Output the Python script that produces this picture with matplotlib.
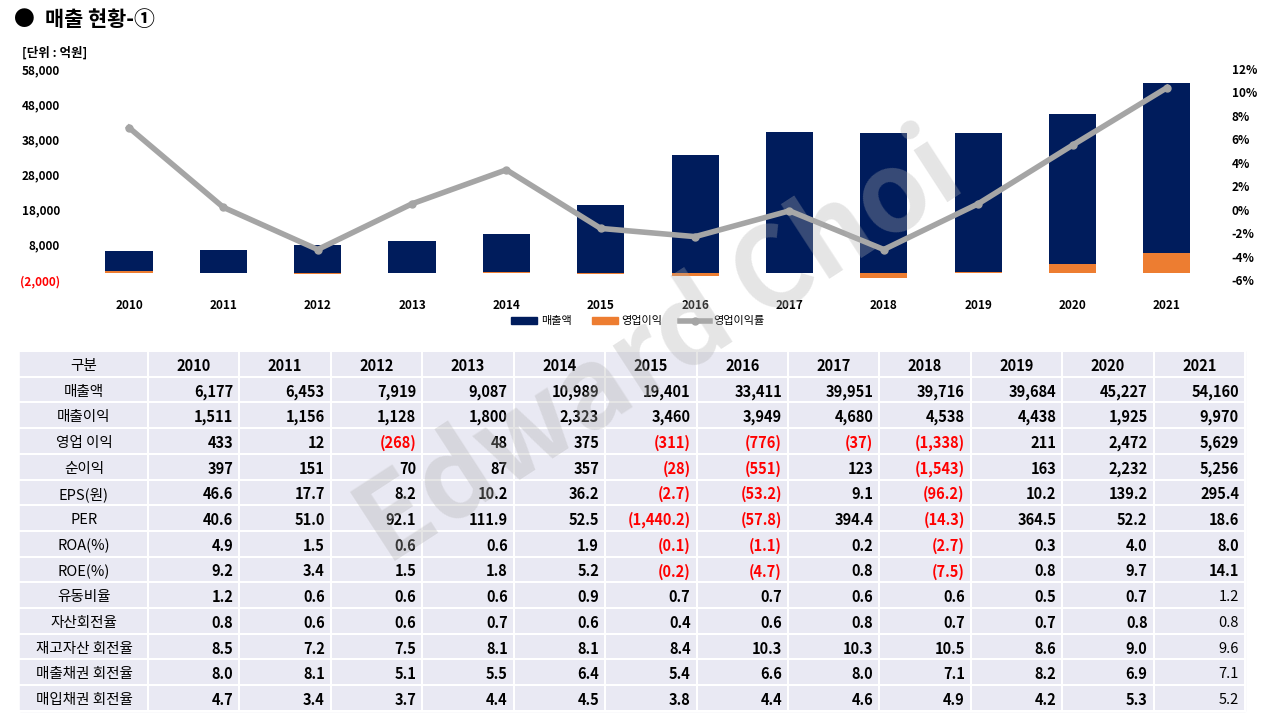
import numpy as np
import matplotlib.pyplot as plt
from matplotlib.patches import Rectangle

plt.rcParams['font.family'] = ['Noto Sans CJK KR', 'DejaVu Sans']

years = ['2010', '2011', '2012', '2013', '2014', '2015', '2016', '2017', '2018', '2019', '2020', '2021']
sales = [6177, 6453, 7919, 9087, 10989, 19401, 33411, 39951, 39716, 39684, 45227, 54160]
op_income = [433, 12, -268, 48, 375, -311, -776, -37, -1338, 211, 2472, 5629]
op_margin = [7.0, 0.2, -3.4, 0.5, 3.4, -1.6, -2.3, -0.1, -3.4, 0.5, 5.5, 10.4]

row_names = ['매출액', '매출이익', '영업 이익', '순이익', 'EPS(원)', 'PER', 'ROA(%)', 'ROE(%)',
             '유동비율', '자산회전율', '재고자산 회전율', '매출채권 회전율', '매입채권 회전율']
table = [
    ['6,177', '6,453', '7,919', '9,087', '10,989', '19,401', '33,411', '39,951', '39,716', '39,684', '45,227', '54,160'],
    ['1,511', '1,156', '1,128', '1,800', '2,323', '3,460', '3,949', '4,680', '4,538', '4,438', '1,925', '9,970'],
    ['433', '12', '(268)', '48', '375', '(311)', '(776)', '(37)', '(1,338)', '211', '2,472', '5,629'],
    ['397', '151', '70', '87', '357', '(28)', '(551)', '123', '(1,543)', '163', '2,232', '5,256'],
    ['46.6', '17.7', '8.2', '10.2', '36.2', '(2.7)', '(53.2)', '9.1', '(96.2)', '10.2', '139.2', '295.4'],
    ['40.6', '51.0', '92.1', '111.9', '52.5', '(1,440.2)', '(57.8)', '394.4', '(14.3)', '364.5', '52.2', '18.6'],
    ['4.9', '1.5', '0.6', '0.6', '1.9', '(0.1)', '(1.1)', '0.2', '(2.7)', '0.3', '4.0', '8.0'],
    ['9.2', '3.4', '1.5', '1.8', '5.2', '(0.2)', '(4.7)', '0.8', '(7.5)', '0.8', '9.7', '14.1'],
    ['1.2', '0.6', '0.6', '0.6', '0.9', '0.7', '0.7', '0.6', '0.6', '0.5', '0.7', '1.2'],
    ['0.8', '0.6', '0.6', '0.7', '0.6', '0.4', '0.6', '0.8', '0.7', '0.7', '0.8', '0.8'],
    ['8.5', '7.2', '7.5', '8.1', '8.1', '8.4', '10.3', '10.3', '10.5', '8.6', '9.0', '9.6'],
    ['8.0', '8.1', '5.1', '5.5', '6.4', '5.4', '6.6', '8.0', '7.1', '8.2', '6.9', '7.1'],
    ['4.7', '3.4', '3.7', '4.4', '4.5', '3.8', '4.4', '4.6', '4.9', '4.2', '5.3', '5.2'],
]

W, H = 1280, 720
fig = plt.figure(figsize=(12.8, 7.2), dpi=100)

def fx(px):
    return px / W

def fy(py):
    return 1 - py / H

# title
fig.text(fx(14), fy(20), '●', fontsize=15, va='center', ha='left')
fig.text(fx(45), fy(20), '매출 현황-①', fontsize=15, fontweight='bold', va='center', ha='left')
fig.text(fx(22), fy(53), '[단위 : 억원]', fontsize=9, fontweight='bold', va='center', ha='left')

# chart
ax = fig.add_axes([fx(85), fy(280), fx(1215) - fx(85), (280 - 69) / H])
x = np.arange(len(years))
ax.bar(x, sales, width=0.5, color='#001c5c', zorder=2)
ax.bar(x, op_income, width=0.5, color='#ed7d31', zorder=3)
ax.set_xlim(-0.466, 11.51)
ax.set_ylim(-2000, 58000)
ax.set_yticks(np.arange(-2000, 58001, 10000))
ax.set_yticklabels(['(2,000)'] + [f'{v:,}' for v in range(8000, 58001, 10000)])
ax.get_yticklabels()[0].set_color('red')
ax.set_xticks(x)
ax.set_xticklabels(years)
for s in ax.spines.values():
    s.set_visible(False)
ax.tick_params(length=0, labelsize=8.5)
for lab in ax.get_xticklabels() + ax.get_yticklabels():
    lab.set_fontweight('bold')
ax.tick_params(axis='y', pad=18)
ax.tick_params(axis='x', pad=14)

ax2 = ax.twinx()
ax2.plot(x, op_margin, color='#a5a5a5', lw=4, marker='o', ms=5, zorder=4)
ax2.set_ylim(-6, 12)
ax2.set_yticks(np.arange(-6, 13, 2))
ax2.set_yticklabels([f'{v}%' for v in range(-6, 13, 2)])
for s in ax2.spines.values():
    s.set_visible(False)
ax2.tick_params(length=0, labelsize=8.5, pad=12)
for lab in ax2.get_yticklabels():
    lab.set_fontweight('bold')

# legend
ly = fy(321)
fig.patches.append(Rectangle((fx(511), ly - 3 / H), 26 / W, 7 / H, color='#001c5c', transform=fig.transFigure))
fig.text(fx(541), ly, '매출액', fontsize=8, va='center')
fig.patches.append(Rectangle((fx(592), ly - 3 / H), 26 / W, 7 / H, color='#ed7d31', transform=fig.transFigure))
fig.text(fx(621), ly, '영업이익', fontsize=8, va='center')
fig.lines.append(plt.Line2D([fx(680), fx(710)], [ly, ly], color='#a5a5a5', lw=4, transform=fig.transFigure))
fig.lines.append(plt.Line2D([fx(695)], [ly], color='#a5a5a5', marker='o', ms=5, transform=fig.transFigure))
fig.text(fx(713), ly, '영업이익률', fontsize=8, va='center')

# table
top, rh = 351, 25.7
col0_l, col0_r = 20, 148
cw = (1245 - col0_r) / 12
nrows = len(row_names) + 1
fig.patches.append(Rectangle((fx(col0_l), fy(top + rh * nrows)), (1245 - col0_l) / W, rh * nrows / H,
                             color='#e9e9f3', transform=fig.transFigure, zorder=0))
for r in range(nrows + 1):
    yy = fy(top + rh * r)
    fig.lines.append(plt.Line2D([fx(col0_l), fx(1245)], [yy, yy], color='white', lw=1.5, transform=fig.transFigure))
for c in range(13):
    xx = fx(col0_r + cw * c)
    fig.lines.append(plt.Line2D([xx, xx], [fy(top), fy(top + rh * nrows)], color='white', lw=1.5, transform=fig.transFigure))

fs = 10.5
off = 2
fig.text(fx((col0_l + col0_r) / 2), fy(top + rh / 2 + off), '구분', fontsize=fs, ha='center', va='center')
for j, yr in enumerate(years):
    fig.text(fx(col0_r + cw * (j + 0.5)), fy(top + rh / 2 + off), yr, fontsize=fs, fontweight='bold', ha='center', va='center')
for i, name in enumerate(row_names):
    cy = fy(top + rh * (i + 1.5) + off)
    fig.text(fx((col0_l + col0_r) / 2), cy, name, fontsize=fs, ha='center', va='center')
    for j, val in enumerate(table[i]):
        color = 'red' if val.startswith('(') else 'black'
        weight = 'normal' if (j == 11 and i >= 8) else 'bold'
        fig.text(fx(col0_r + cw * (j + 1) - 6), cy, val, fontsize=fs, fontweight=weight,
                 color=color, ha='right', va='center')

# watermark
fig.text(fx(660), fy(350), 'Edward Choi', fontsize=80, fontweight='bold', color='#b0b0b0',
         alpha=0.32, rotation=33, ha='center', va='center', zorder=10)

fig.savefig('out.png', dpi=100)
